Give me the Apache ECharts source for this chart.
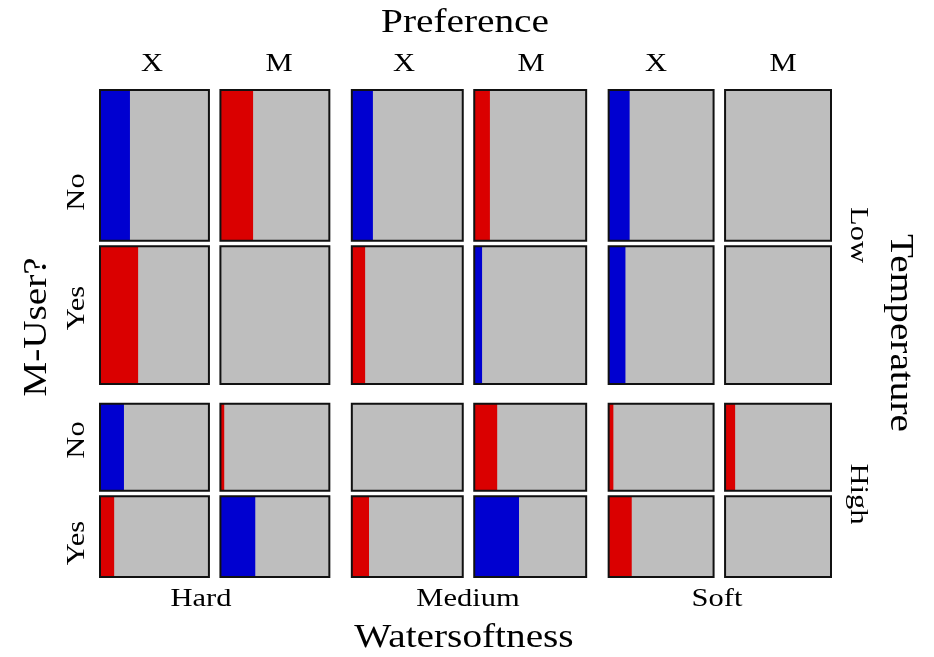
<!DOCTYPE html>
<html>
<head>
<meta charset="utf-8">
<script src="https://cdn.jsdelivr.net/npm/echarts@6/dist/echarts.min.js"></script>
<style>
html,body{margin:0;padding:0;background:#fff;}
#chart{width:934px;height:657px;}
</style>
</head>
<body>
<div id="chart"></div>
<script>
// ---- data ----
const preference = ['X', 'M', 'X', 'M', 'X', 'M'];
const watersoftness = ['Hard', 'Medium', 'Soft'];
const temperature = ['Low', 'High'];
const mUser = ['No', 'Yes', 'No', 'Yes'];
// relative widths of the 6 columns (Watersoftness x Preference)
const colWidths = [109, 109, 111, 112, 105, 106];
// relative heights of the 4 rows (Temperature x M-User)
const rowHeights = [151, 138, 87, 81];
// shaded share of each cell: negative = blue, positive = red
const rowLowNo   = [-0.275, 0.30, -0.19, 0.14, -0.20, 0];
const rowLowYes  = [0.35, 0, 0.12, -0.07, -0.16, 0];
const rowHighNo  = [-0.22, 0.035, 0, 0.205, 0.045, 0.095];
const rowHighYes = [0.13, -0.32, 0.155, -0.40, 0.22, 0];
const cellValues = [rowLowNo, rowLowYes, rowHighNo, rowHighYes];

// ---- layout ----
const innerGapX = 11.5, outerGapX = 22.5;
const innerGapY = 5.5, outerGapY = 20;
const colStart = [];
let acc = 0;
colWidths.forEach((w, i) => {
  if (i > 0) acc += (i % 2 === 0) ? outerGapX : innerGapX;
  colStart.push(acc); acc += w;
});
const totalW = acc;
const rowStart = [];
acc = 0;
rowHeights.forEach((h, i) => {
  if (i > 0) acc += (i % 2 === 0) ? outerGapY : innerGapY;
  rowStart.push(acc); acc += h;
});
const totalH = acc;

const data = [];
cellValues.forEach((row, r) => row.forEach((v, c) => data.push([c, r, v])));

const FONT = '"Liberation Serif", "Times New Roman", serif';
const GRAY = '#BEBEBE', BLUE = '#0000D0', RED = '#DA0000';

function txt(text, x, y, size, rot, sx) {
  return {
    type: 'text', x: x, y: y, rotation: rot || 0, scaleX: sx || 1,
    style: {
      text: text, fill: '#000', font: size + 'px ' + FONT,
      textAlign: 'center', textVerticalAlign: 'middle',
      align: 'center', verticalAlign: 'middle'
    }
  };
}

const TS = 1.19, LS = 1.22;
const chart = echarts.init(document.getElementById('chart'));
const graphics = [
  txt('Preference', 465, 23, 33, 0, TS),
  txt('Watersoftness', 464, 638, 33, 0, TS),
  txt('M-User?', 37, 327, 33, Math.PI / 2, TS),
  txt('Temperature', 900, 333, 33, -Math.PI / 2, TS)
];
const prefX = [152, 279, 404, 531, 656, 783];
preference.forEach((p, i) => graphics.push(txt(p, prefX[i], 64, 25, 0, LS)));
const softX = [201, 468, 717];
watersoftness.forEach((s, i) => graphics.push(txt(s, softX[i], 599, 25, 0, LS)));
const userY = [192, 308, 440, 543];
mUser.forEach((u, i) => graphics.push(txt(u, 77, userY[i], 25, Math.PI / 2, LS)));
const tempY = [235, 494];
temperature.forEach((t, i) => graphics.push(txt(t, 858, tempY[i], 25, -Math.PI / 2, LS)));

chart.setOption({
  animation: false,
  backgroundColor: '#fff',
  grid: { left: 100, top: 90, width: 731, height: 487 },
  xAxis: { type: 'value', min: 0, max: totalW, show: false },
  yAxis: { type: 'value', min: 0, max: totalH, inverse: true, show: false },
  graphic: graphics,
  series: [{
    type: 'custom',
    data: data,
    renderItem: function (params, api) {
      const c = api.value(0), r = api.value(1), v = api.value(2);
      const x0 = colStart[c], w = colWidths[c];
      const y0 = rowStart[r], h = rowHeights[r];
      const p0 = api.coord([x0, y0]);
      const p1 = api.coord([x0 + w, y0 + h]);
      const pb = api.coord([x0 + Math.abs(v) * w, y0]);
      const cw = p1[0] - p0[0], ch = p1[1] - p0[1];
      const children = [
        { type: 'rect', shape: { x: p0[0], y: p0[1], width: cw, height: ch },
          style: { fill: GRAY } }
      ];
      if (v !== 0) {
        children.push({ type: 'rect',
          shape: { x: p0[0], y: p0[1], width: pb[0] - p0[0], height: ch },
          style: { fill: v < 0 ? BLUE : RED } });
      }
      children.push({ type: 'rect', shape: { x: p0[0], y: p0[1], width: cw, height: ch },
        style: { fill: null, stroke: '#111', lineWidth: 2 } });
      return { type: 'group', children: children };
    }
  }]
});
</script>
</body>
</html>
